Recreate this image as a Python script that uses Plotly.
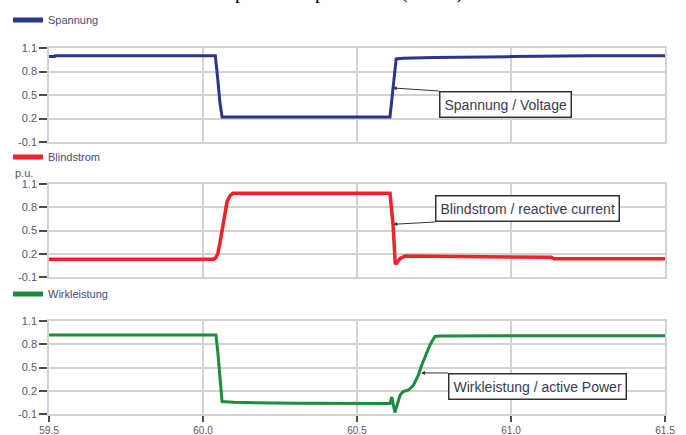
import plotly.graph_objects as go

# ---------------- data ----------------
t_spannung = [59.5, 59.518, 59.52, 60.04, 60.048, 60.055, 60.062, 60.3, 60.607,
              60.612, 60.617, 60.622, 60.627, 60.65, 60.75, 61.0, 61.25, 61.5]
v_spannung = [0.99, 0.99, 1.0, 1.0, 0.7, 0.4, 0.22, 0.22, 0.22,
              0.4, 0.6, 0.8, 0.96, 0.97, 0.98, 0.99, 1.0, 1.0]

t_blind = [59.5, 60.035, 60.042, 60.048, 60.055, 60.065, 60.078, 60.088, 60.097,
           60.607, 60.612, 60.617, 60.621, 60.624, 60.628, 60.64, 60.656, 60.75,
           60.9, 61.0, 61.13, 61.14, 61.5]
v_blind = [0.13, 0.13, 0.15, 0.2, 0.34, 0.6, 0.87, 0.95, 0.98,
           0.98, 0.8, 0.58, 0.3, 0.08, 0.077, 0.14, 0.17, 0.165,
           0.16, 0.16, 0.155, 0.135, 0.135]

t_wirk = [59.5, 60.042, 60.048, 60.055, 60.062, 60.1, 60.3, 60.607, 60.613,
          60.623, 60.64, 60.65, 60.667, 60.683, 60.699, 60.71, 60.726, 60.737,
          60.753, 60.769, 61.0, 61.5]
v_wirk = [0.92, 0.92, 0.7, 0.4, 0.06, 0.05, 0.04, 0.035, 0.12,
          -0.08, 0.145, 0.19, 0.21, 0.27, 0.40, 0.53, 0.68, 0.79,
          0.90, 0.905, 0.91, 0.91]

y_ticks = [-0.1, 0.2, 0.5, 0.8, 1.1]
x_ticks = [59.5, 60.0, 60.5, 61.0, 61.5]
x_labels = ["59.5", "60.0", "60.5", "61.0", "61.5"]

names = ["Spannung", "Blindstrom", "Wirkleistung"]
callouts = ["Spannung / Voltage", "Blindstrom / reactive current", "Wirkleistung / active Power"]
callout_points = [(60.616, 0.59), (60.618, 0.58), (60.708, 0.43)]

# ---------------- styling ----------------
W, H = 686, 435
colors = ["#2b3590", "#ef2229", "#1c8c3e"]
widths = [3, 3.5, 3]
grid = "#d2d2d2"
tick_col = "#4a4a4a"
lab_col = "#55556e"
font_sans = "Liberation Sans, Arial, sans-serif"

# plot areas in pixels (top, bottom)
panels_px = [(48, 142), (184, 277), (321, 414)]
left_px, right_px = 49, 665

fig = go.Figure()
series = [(t_spannung, v_spannung), (t_blind, v_blind), (t_wirk, v_wirk)]
legend_keys = ["legend", "legend2", "legend3"]
for i, (tx, vy) in enumerate(series):
    xa = "x" if i == 0 else f"x{i+1}"
    ya = "y" if i == 0 else f"y{i+1}"
    fig.add_trace(go.Scatter(
        x=tx, y=vy, mode="lines", name=names[i],
        line=dict(color=colors[i], width=widths[i]),
        xaxis=xa, yaxis=ya, showlegend=False,
    ))
    # legend-only entry with a thicker sample line
    fig.add_trace(go.Scatter(
        x=[None], y=[None], mode="lines", name=names[i],
        line=dict(color=colors[i], width=5),
        xaxis=xa, yaxis=ya, legend=legend_keys[i], showlegend=True,
        hoverinfo="skip",
    ))

layout = dict(
    width=W, height=H,
    margin=dict(l=left_px, r=W - right_px, t=0, b=0, autoexpand=False),
    paper_bgcolor="white", plot_bgcolor="white",
    font=dict(family=font_sans, color=lab_col, size=11),
    showlegend=True,
)

legend_y_px = [20, 157, 294]
for i, key in enumerate(legend_keys):
    layout[key] = dict(
        x=8 / W, xref="container", xanchor="left",
        y=1 - legend_y_px[i] / H, yref="container", yanchor="middle",
        bgcolor="rgba(0,0,0,0)", borderwidth=0,
        font=dict(size=11, color="#4a4a78", family=font_sans),
        tracegroupgap=0, itemclick=False,
    )

for i, (top, bot) in enumerate(panels_px):
    sfx = "" if i == 0 else str(i + 1)
    dom = [1 - bot / H, 1 - top / H]
    bottom_panel = (i == 2)
    layout["xaxis" + sfx] = dict(
        domain=[0, 1], range=[59.5, 61.5], anchor="y" + sfx,
        tickvals=x_ticks, ticktext=x_labels,
        showticklabels=bottom_panel,
        ticks="outside" if bottom_panel else "",
        ticklen=6, tickwidth=2, tickcolor=tick_col,
        showgrid=True, gridcolor=grid, gridwidth=1.5,
        showline=True, linecolor=grid, linewidth=1.5, mirror=True,
        zeroline=False, fixedrange=True,
        tickfont=dict(size=10, color=lab_col),
    )
    if i > 0:
        layout["xaxis" + sfx]["matches"] = "x"
    layout["yaxis" + sfx] = dict(
        domain=dom, range=[-0.1, 1.1], anchor="x" + sfx,
        tickvals=y_ticks, ticktext=[f"{v:.1f}" for v in y_ticks],
        ticks="outside", ticklen=8, tickwidth=2, tickcolor=tick_col,
        showgrid=True, gridcolor=grid, gridwidth=1.5,
        showline=True, linecolor=grid, linewidth=1.5, mirror=True,
        zeroline=False, fixedrange=True,
        tickfont=dict(size=11, color=lab_col),
    )

fig.update_layout(**layout)

# callout annotations with arrows
tails_px = [(439, 91), (435, 222), (448, 373)]
anchors = [("left", "top"), ("left", "bottom"), ("left", "top")]
for i, (cx, cy) in enumerate(callout_points):
    top, bot = panels_px[i]
    hx = left_px + (cx - 59.5) / 2.0 * (right_px - left_px)
    hy = bot - (cy + 0.1) / 1.2 * (bot - top)
    tx, ty = tails_px[i]
    sfx = "" if i == 0 else str(i + 1)
    fig.add_annotation(
        x=cx, y=cy, xref="x" + sfx, yref="y" + sfx,
        text=callouts[i], showarrow=True,
        ax=tx - hx, ay=ty - hy,
        xanchor=anchors[i][0], yanchor=anchors[i][1],
        arrowhead=2, arrowsize=0.8, arrowwidth=1, arrowcolor="#333333",
        bordercolor="#333333", borderwidth=1.5, borderpad=4,
        bgcolor="white",
        font=dict(size=14, color="#3a3a50", family=font_sans),
    )

# "p.u." unit label above the middle panel
fig.add_annotation(
    x=0, xref="paper", xshift=-36, xanchor="left",
    y=1, yref="y2 domain", yanchor="bottom", yshift=3,
    text="p.u.", showarrow=False,
    font=dict(size=11, color=lab_col, family=font_sans),
)

# cropped heading at the very top (only descenders visible)
title_bits = [("p", 240), ("p", 320), ("(LVRT)", 432)]
for txt, px in title_bits:
    fig.add_annotation(
        x=(px - left_px) / (right_px - left_px), xref="paper", xanchor="center",
        y=1, yref="paper", yanchor="bottom", yshift=-5,
        text=txt, showarrow=False,
        font=dict(size=20, color="black", family="Liberation Serif, Times New Roman, serif"),
    )

fig.write_html(
    "out.html",
    config={"displayModeBar": False},
    post_script="document.body.style.margin='0';document.body.style.overflow='hidden';",
)
